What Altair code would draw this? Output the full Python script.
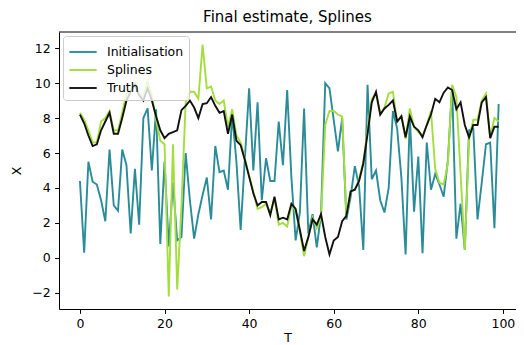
import altair as alt
import pandas as pd

T = list(range(100))

initialisation = [
    4.4, 0.3, 5.5, 4.36, 4.2, 3.3, 2.1, 6.2, 3.0, 2.7,
    6.2, 5.3, 1.4, 5.1, 1.9, 8.0, 8.55, 5.0, 8.5, 0.8,
    5.5, 0.65, 4.3, 1.0, 1.2, 6.0, 3.3, 1.1, 2.5, 3.6,
    4.6, 2.2, 6.4, 4.9, 5.0, 3.9, 8.2, 5.5, 1.6, 5.7,
    9.7, 5.0, 8.9, 3.3, 5.7, 4.4, 4.4, 7.8, 5.3, 9.6,
    4.6, 1.0, 2.6, 8.55, 1.4, 2.5, 0.6, 2.5, 10.0, 9.7,
    7.9, 6.1, 8.0, 2.2, 3.5, 5.25, 4.1, 0.46, 9.9, 4.5,
    5.0, 3.3, 2.6, 4.0, 8.4, 7.4, 4.6, 0.2, 8.1, 2.65,
    5.8, 0.27, 6.6, 3.9, 4.8, 4.2, 3.5, 5.6, 9.8, 1.1,
    3.1, 0.46, 7.3, 7.4, 2.2, 4.3, 6.5, 6.6, 1.7, 8.8,
]

splines = [
    8.3, 7.9, 7.3, 6.6, 6.6, 7.8, 8.0, 8.4, 7.3, 7.3,
    8.3, 9.4, 9.6, 10.0, 9.4, 9.2, 10.1, 9.3, 7.9, 6.7,
    6.5, -2.2, 6.5, -1.8, 3.0, 8.9, 9.5, 9.5, 9.1, 12.2,
    9.7, 9.8, 9.0, 8.8, 9.0, 7.5, 8.5, 7.0, 6.6, 5.7,
    4.7, 3.8, 2.8, 2.9, 3.1, 2.6, 3.4, 1.9, 2.0, 1.8,
    3.0, 2.7, 1.5, 0.1, 1.2, 2.3, 1.7, 2.3, 7.6, 8.4,
    8.4, 8.2, 8.1, 2.4, 3.8, 3.9, 4.5, 5.5, 7.3, 9.1,
    9.4, 8.2, 8.6, 9.4, 9.5, 7.8, 8.1, 6.8, 8.55, 7.5,
    7.2, 7.0, 7.6, 8.4, 5.1, 4.3, 4.2, 5.4, 9.9, 9.2,
    4.8, 0.45, 6.8, 7.9, 7.9, 9.0, 9.4, 6.9, 8.0, 7.8,
]

truth = [
    8.2, 7.7, 7.0, 6.4, 6.5, 7.3, 7.8, 8.3, 7.1, 7.1,
    8.0, 9.0, 9.5, 9.9, 9.3, 9.0, 9.7, 9.0, 8.1, 7.3,
    6.85, 7.1, 7.2, 7.3, 8.45, 8.7, 9.0, 8.6, 8.0, 8.8,
    8.85, 9.2, 8.7, 8.3, 8.4, 7.1, 8.2, 6.7, 6.45, 5.6,
    4.65, 3.7, 3.0, 3.2, 3.2, 2.45, 3.5, 2.2, 2.3, 2.2,
    3.1, 2.8, 1.6, 0.4, 1.2, 2.2, 1.9, 2.5, 1.2, 0.2,
    1.0, 1.2, 2.1, 2.4, 3.8, 3.9, 4.4, 5.4, 7.1, 8.9,
    9.5, 8.2, 8.55, 8.75, 9.0, 7.8, 8.1, 6.9, 8.1, 7.5,
    7.3, 6.9, 7.6, 8.2, 9.1, 8.9, 9.45, 9.75, 9.6, 8.5,
    8.9, 7.6, 6.9, 7.6, 7.6, 8.9, 9.2, 6.85, 7.5, 7.5,
]

series_names = ["Initialisation", "Splines", "Truth"]
series_colors = ["#2a8c99", "#a3de3e", "#111111"]
x_ticks = [0, 20, 40, 60, 80, 100]
y_ticks = [-2, 0, 2, 4, 6, 8, 10, 12]

rows = []
for name, vals in zip(series_names, [initialisation, splines, truth]):
    for t, v in zip(T, vals):
        rows.append({"T": t, "X": v, "series": name})
df = pd.DataFrame(rows)

W, H = 457, 277
FONT = "DejaVu Sans"

x_scale = alt.Scale(domain=[-4.95, 103.1], nice=False, zero=False)
y_scale = alt.Scale(domain=[-2.92, 12.92], nice=False, zero=False)
color_scale = alt.Scale(domain=series_names, range=series_colors)

legend = alt.Legend(
    title=None,
    orient="top-left",
    offset=4,
    padding=5,
    symbolType="M-1.4,0H1.4",
    symbolStrokeWidth=1.9,
    symbolSize=380,
    symbolOffset=4,
    labelFontSize=12.5,
    labelFont=FONT,
    labelColor="black",
    labelOffset=13,
    rowPadding=0,
    fillColor="rgba(255,255,255,0.8)",
    strokeColor="#cccccc",
    cornerRadius=3,
)


def series_layer(name):
    return (
        alt.Chart(df)
        .transform_filter(alt.datum.series == name)
        .mark_line(strokeWidth=1.9)
        .encode(
            x=alt.X(
                "T:Q",
                scale=x_scale,
                axis=alt.Axis(values=x_ticks, title="T", format="d"),
            ),
            y=alt.Y(
                "X:Q",
                scale=y_scale,
                axis=alt.Axis(values=y_ticks, title="X", format="d"),
            ),
            color=alt.Color("series:N", scale=color_scale, legend=legend),
        )
    )


top_spine = (
    alt.Chart(pd.DataFrame({"a": [0]}))
    .mark_rule(color="black", strokeWidth=1)
    .encode(x=alt.value(0), x2=alt.value(W), y=alt.value(0))
)

chart = (
    alt.layer(
        series_layer("Initialisation"),
        series_layer("Splines"),
        series_layer("Truth"),
        top_spine,
    )
    .properties(
        width=W,
        height=H,
        autosize=alt.AutoSizeParams(type="none"),
        padding={"left": 51, "top": 24, "right": 0, "bottom": 36},
        title=alt.TitleParams(
            "Final estimate, Splines",
            fontSize=15,
            font=FONT,
            fontWeight="normal",
            color="black",
            anchor="middle",
            offset=7,
        ),
    )
    .configure_view(stroke=None)
    .configure_axis(
        grid=False,
        domainColor="black",
        domainWidth=1,
        tickColor="black",
        tickWidth=1,
        tickSize=4.4,
        labelPadding=4.4,
        labelFont=FONT,
        labelFontSize=12.5,
        labelColor="black",
        titleFont=FONT,
        titleFontSize=12.5,
        titleFontWeight="normal",
        titleColor="black",
    )
    .configure_axisX(titlePadding=1)
    .configure_axisY(titlePadding=8)
)

chart.save("out.html", embed_options={"renderer": "svg", "actions": False})
